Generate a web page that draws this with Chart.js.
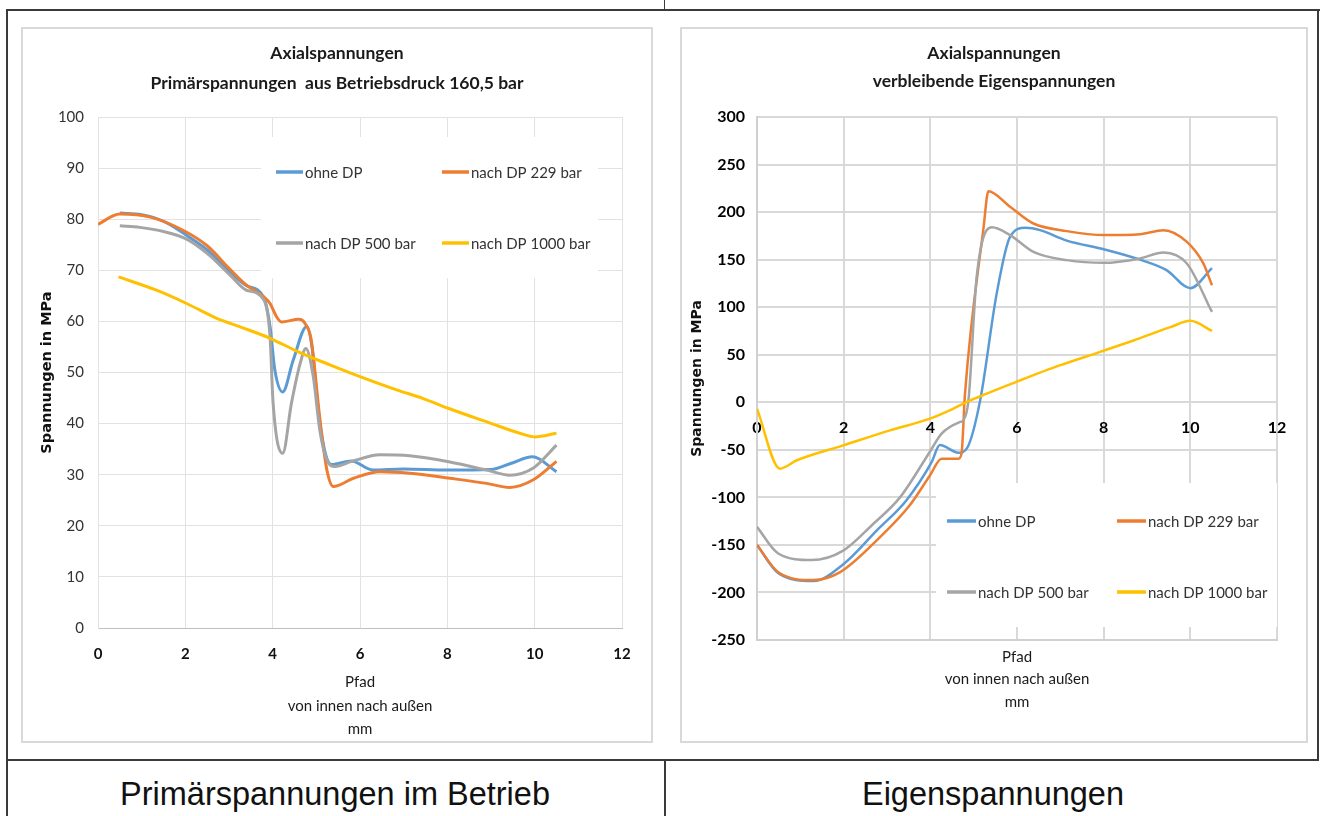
<!DOCTYPE html>
<html lang="de">
<head>
<meta charset="utf-8">
<title>Axialspannungen</title>
<script src="https://cdn.jsdelivr.net/npm/chart.js@4.4.1/dist/chart.umd.min.js"></script>
<style>
    body { margin: 0; background: #fff; font-family: Lato, "Liberation Sans", sans-serif; }
    #seite { position: relative; width: 1325px; height: 816px; overflow: hidden; }
    .linie { position: absolute; background: #3a3a3a; }
    .kasten { position: absolute; box-sizing: border-box; border: 2px solid #d9d9d9; background: #fff; }
    .kasten canvas { display: block; }
    .unterschrift { position: absolute; top: 776px; width: 658px; text-align: center;
        font-family: "Liberation Sans", Arial, sans-serif; font-size: 32.5px; color: #111; }
</style>
</head>
<body>
<div id="seite">
    <div class="linie" style="left:6px; top:9px; width:1314px; height:2px;"></div>
    <div class="linie" style="left:6px; top:9px; width:2px; height:807px;"></div>
    <div class="linie" style="left:1317px; top:9px; width:2px; height:752px;"></div>
    <div class="linie" style="left:6px; top:759px; width:1313px; height:2px;"></div>
    <div class="linie" style="left:664px; top:759px; width:2px; height:57px;"></div>
    <div class="linie" style="left:664px; top:0px; width:1px; height:10px;"></div>

    <div class="kasten" style="left:21px; top:27px; width:632px; height:716px;">
        <canvas id="grafikPrimaer" width="628" height="712"></canvas>
    </div>
    <div class="kasten" style="left:680px; top:27px; width:628px; height:716px;">
        <canvas id="grafikEigen" width="624" height="712"></canvas>
    </div>

    <div class="unterschrift" style="left:6px;">Primärspannungen im Betrieb</div>
    <div class="unterschrift" style="left:664px;">Eigenspannungen</div>
</div>

<script>
// Legende
const serien = ["ohne DP", "nach DP 229 bar", "nach DP 500 bar", "nach DP 1000 bar"];
const farben = ["#5b9bd5", "#ed7d31", "#a5a5a5", "#ffc000"];

// Primärspannungen aus Betriebsdruck 160,5 bar (Pfad in mm, Spannung in MPa)
const pfadOhneP = [0.5, 1.0, 1.5, 2.0, 2.5, 3.0, 3.4, 3.8, 3.94, 4.05, 4.23, 4.47, 4.78, 4.9, 5.08, 5.35, 5.8, 6.3, 7.0, 8.0, 9.0, 9.45, 9.95, 10.5];
const wertOhneP = [81.2, 80.9, 79.6, 77.0, 74.0, 69.8, 67.0, 64.6, 59.0, 50.5, 46.2, 52.4, 59.0, 55.0, 40.0, 32.0, 32.7, 30.9, 31.1, 30.9, 31.0, 32.2, 33.5, 30.6];

const pfad229P = [0, 0.5, 1.2, 2.0, 2.5, 3.0, 3.4, 3.8, 3.94, 4.09, 4.2, 4.6, 4.75, 4.88, 5.08, 5.24, 5.39, 5.85, 6.46, 7.14, 8.06, 8.9, 9.43, 9.97, 10.5];
const wert229P = [79.0, 81.0, 80.4, 77.6, 74.8, 70.4, 67.1, 64.8, 63.5, 60.9, 59.9, 60.4, 59.5, 56.5, 41.0, 31.0, 27.7, 29.3, 30.6, 30.3, 29.3, 28.3, 27.5, 29.0, 32.6];

const pfad500P = [0.5, 0.96, 1.5, 2.03, 2.5, 3.02, 3.4, 3.8, 3.94, 4.01, 4.23, 4.43, 4.63, 4.76, 4.93, 5.08, 5.24, 5.43, 5.81, 6.46, 7.14, 8.06, 8.9, 9.43, 9.97, 10.5];
const wert500P = [78.7, 78.4, 77.6, 76.1, 73.3, 69.1, 66.1, 64.2, 57.0, 44.0, 34.2, 44.0, 51.8, 54.7, 49.2, 38.7, 32.9, 31.6, 32.6, 33.9, 33.7, 32.5, 30.9, 29.9, 31.3, 35.8];

const pfad1000P = [0.47, 1.34, 2.03, 2.72, 3.3, 3.94, 4.6, 5.31, 6.0, 6.84, 7.45, 8.02, 8.98, 9.66, 10.0, 10.5];
const wert1000P = [68.7, 66.1, 63.5, 60.6, 58.8, 56.7, 54.0, 51.5, 49.2, 46.6, 44.9, 43.0, 40.1, 38.1, 37.4, 38.1];

// verbleibende Eigenspannungen
const pfadOhneE = [0, 0.5, 1.3, 2.0, 2.76, 3.45, 4.03, 4.22, 4.65, 4.85, 5.15, 5.53, 5.84, 6.2, 6.53, 7.15, 8.0, 8.84, 9.45, 10.0, 10.5];
const wertOhneE = [-150, -180, -188, -170, -135, -103, -63, -45, -53, -48, 2, 114, 174, 183.5, 181, 170, 161, 150, 139, 120, 141];

const pfad229E = [0, 0.5, 1.3, 1.92, 2.84, 3.53, 3.99, 4.26, 4.65, 4.72, 4.8, 5.23, 5.34, 5.84, 6.38, 7.15, 8.0, 8.84, 9.38, 9.92, 10.3, 10.5];
const wert229E = [-150, -179, -187, -178.6, -141.8, -108, -77, -59.3, -59.3, -54, 9, 184.5, 222, 205.6, 188, 180, 175.8, 176.8, 181, 168.7, 146, 123];

const pfad500E = [0, 0.49, 1.26, 1.99, 2.68, 3.3, 3.99, 4.26, 4.69, 4.76, 4.88, 5.07, 5.42, 5.84, 6.38, 7.15, 8.0, 8.84, 9.38, 9.92, 10.5];
const wert500E = [-131, -159, -166, -156, -128, -100, -52, -33, -20.7, -19, 2, 132, 184, 175.8, 158.2, 149.5, 146.6, 151.3, 157.6, 146, 95];

const pfad1000E = [0, 0.53, 0.92, 1.99, 3.07, 3.99, 4.53, 4.92, 5.3, 6.07, 7.0, 7.92, 8.69, 9.54, 10.0, 10.5];
const wert1000E = [-6.7, -69.8, -61, -45.3, -29.5, -17.2, -6.7, 2, 9, 23, 39, 53, 65, 79, 85.6, 75];

function punkte(pfad, werte) {
    return pfad.map((x, i) => ({ x: x, y: werte[i] }));
}

function datensaetze(reihen, breite) {
    // Excel zeichnet spätere Reihen oben -> order absteigend
    return reihen.map((r, i) => ({
        label: serien[i],
        data: punkte(r[0], r[1]),
        borderColor: farben[i],
        backgroundColor: farben[i],
        borderWidth: breite,
        pointRadius: 0,
        showLine: true,
        cubicInterpolationMode: "monotone",
        order: reihen.length - i
    }));
}

// eigene Legende im Diagrammbereich (weißer Kasten, 2x2)
const legendePlugin = {
    id: "legende2x2",
    beforeDatasetsDraw(chart, args, opt) {
        const ctx = chart.ctx;
        ctx.save();
        ctx.fillStyle = "#fff";
        ctx.fillRect(opt.kasten[0], opt.kasten[1], opt.kasten[2], opt.kasten[3]);
        ctx.font = "15px Lato, 'Liberation Sans', sans-serif";
        ctx.textBaseline = "middle";
        serien.forEach((name, i) => {
            const spalte = i % 2;
            const zeile = Math.floor(i / 2);
            const x0 = opt.spalten[spalte];
            const y0 = opt.zeilen[zeile];
            ctx.strokeStyle = farben[i];
            ctx.lineWidth = 3.5;
            ctx.beginPath();
            ctx.moveTo(x0, y0);
            ctx.lineTo(x0 + opt.strich, y0);
            ctx.stroke();
            ctx.fillStyle = "#333";
            ctx.fillText(name, x0 + opt.strich + 2, y0 + 1);
        });
        ctx.restore();
    }
};

const schrift = "Lato, 'Liberation Sans', sans-serif";

// leere rechte Achse, damit der Titel über dem ganzen Kasten zentriert bleibt
const rechterRand = {
    position: "right",
    display: true,
    ticks: { display: false },
    grid: { display: false, drawTicks: false },
    border: { display: false },
    afterFit(s) { s.width = 29; }
};

new Chart(document.getElementById("grafikPrimaer"), {
    type: "scatter",
    data: {
        datasets: datensaetze([
            [pfadOhneP, wertOhneP],
            [pfad229P, wert229P],
            [pfad500P, wert500P],
            [pfad1000P, wert1000P]
        ], 3)
    },
    options: {
        responsive: false,
        animation: false,
        layout: { padding: 0 },
        plugins: {
            legend: { display: false },
            tooltip: { enabled: false },
            title: {
                display: true,
                text: ["Axialspannungen", "Primärspannungen  aus Betriebsdruck 160,5 bar"],
                color: "#1a1a1a",
                font: { family: schrift, size: 17.5, weight: "bold", lineHeight: "30px" },
                padding: { top: 9, bottom: 19 }
            },
            legende2x2: {
                kasten: [238, 108, 337, 141],
                spalten: [253, 419],
                zeilen: [143, 214],
                strich: 27
            }
        },
        scales: {
            x: {
                type: "linear", min: 0, max: 12,
                ticks: { stepSize: 2, padding: 17, color: "#111", font: { family: schrift, size: 15, weight: "bold" } },
                grid: { color: "#e2e2e2", lineWidth: 1, drawTicks: false },
                border: { color: "#bfbfbf", width: 1 },
                title: {
                    display: true,
                    text: ["Pfad", "von innen nach außen", "mm"],
                    color: "#1a1a1a",
                    font: { family: schrift, size: 15, lineHeight: "23.5px" },
                    padding: { top: 0, bottom: 0 }
                },
                afterFit(s) { s.height = 113; }
            },
            y: {
                min: 0, max: 100,
                ticks: { stepSize: 10, padding: 14, color: "#333", font: { family: schrift, size: 15 } },
                grid: { color: "#e2e2e2", lineWidth: 1, drawTicks: false },
                border: { color: "#e2e2e2", width: 1 },
                title: {
                    display: true,
                    text: "Spannungen in MPa",
                    color: "#111",
                    font: { family: "'DejaVu Sans', sans-serif", size: 14.5, weight: "bold", lineHeight: "18px" },
                    padding: { top: 15, bottom: 0 }
                },
                afterFit(s) { s.width = 75; }
            },
            yRechts: rechterRand
        }
    },
    plugins: [legendePlugin]
});

new Chart(document.getElementById("grafikEigen"), {
    type: "scatter",
    data: {
        datasets: datensaetze([
            [pfadOhneE, wertOhneE],
            [pfad229E, wert229E],
            [pfad500E, wert500E],
            [pfad1000E, wert1000E]
        ], 2.5)
    },
    options: {
        responsive: false,
        animation: false,
        layout: { padding: 0 },
        plugins: {
            legend: { display: false },
            tooltip: { enabled: false },
            title: {
                display: true,
                text: ["Axialspannungen", "verbleibende Eigenspannungen"],
                color: "#1a1a1a",
                font: { family: schrift, size: 17.5, weight: "bold", lineHeight: "28px" },
                padding: { top: 10, bottom: 22 }
            },
            legende2x2: {
                kasten: [254, 454, 341, 144],
                spalten: [265, 435],
                zeilen: [492, 563],
                strich: 29
            }
        },
        scales: {
            x: {
                type: "linear", min: 0, max: 12,
                ticks: { display: false, stepSize: 2 },
                grid: { color: "#d9d9d9", lineWidth: 2, drawTicks: false },
                border: { color: "#d0d0d0", width: 2 },
                title: {
                    display: true,
                    text: ["Pfad", "von innen nach außen", "mm"],
                    color: "#1a1a1a",
                    font: { family: schrift, size: 15, lineHeight: "22.5px" },
                    padding: { top: 0, bottom: 28 }
                },
                afterFit(s) { s.height = 101; }
            },
            xNull: {
                type: "linear", axis: "x", min: 0, max: 12,
                position: { y: 0 },
                ticks: { stepSize: 2, padding: 16, color: "#000", font: { family: schrift, size: 16, weight: "bold" } },
                grid: { display: false, drawTicks: false },
                border: { display: false }
            },
            y: {
                min: -250, max: 300,
                ticks: { stepSize: 50, padding: 12, color: "#000", font: { family: schrift, size: 16, weight: "bold" } },
                grid: { color: "#d9d9d9", lineWidth: 2, drawTicks: false },
                border: { color: "#d0d0d0", width: 2 },
                title: {
                    display: true,
                    text: "Spannungen in MPa",
                    color: "#111",
                    font: { family: "'DejaVu Sans', sans-serif", size: 14, weight: "bold", lineHeight: "17px" },
                    padding: { top: 7, bottom: 0 }
                },
                afterFit(s) { s.width = 75; }
            },
            yRechts: rechterRand
        }
    },
    plugins: [legendePlugin]
});
</script>
</body>
</html>
